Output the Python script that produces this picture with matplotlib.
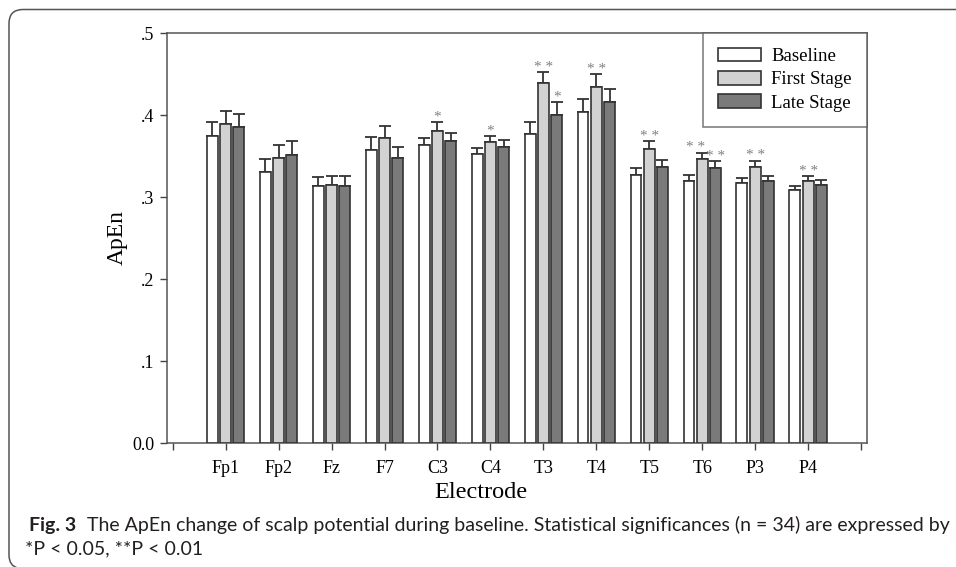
import matplotlib
matplotlib.use("Agg")
import matplotlib.pyplot as plt
from matplotlib.patches import Patch
from matplotlib.path import Path
from matplotlib.patches import PathPatch
import numpy as np

# ---------------- data ----------------
electrodes = ["Fp1", "Fp2", "Fz", "F7", "C3", "C4", "T3", "T4", "T5", "T6", "P3", "P4"]
baseline = [0.374, 0.331, 0.313, 0.357, 0.363, 0.352, 0.377, 0.404, 0.327, 0.319, 0.317, 0.308]
first_stage = [0.389, 0.348, 0.315, 0.372, 0.381, 0.367, 0.439, 0.434, 0.359, 0.346, 0.336, 0.320]
late_stage = [0.385, 0.351, 0.314, 0.347, 0.368, 0.361, 0.400, 0.416, 0.337, 0.335, 0.320, 0.315]
err_baseline = [0.0175, 0.015, 0.012, 0.016, 0.009, 0.008, 0.015, 0.016, 0.008, 0.008, 0.0056, 0.0057]
err_first = [0.016, 0.0155, 0.011, 0.015, 0.010, 0.008, 0.013, 0.016, 0.009, 0.008, 0.0085, 0.0057]
err_late = [0.016, 0.017, 0.012, 0.014, 0.010, 0.009, 0.016, 0.0155, 0.008, 0.0085, 0.006, 0.006]
sig_first = ["", "", "", "", "*", "*", "**", "**", "**", "**", "**", "**"]
sig_late = ["", "", "", "", "", "", "*", "", "", "**", "", ""]
series_labels = ["Baseline", "First Stage", "Late Stage"]
y_ticks = [0.0, 0.1, 0.2, 0.3, 0.4, 0.5]
y_ticklabels = ["0.0", ".1", ".2", ".3", ".4", ".5"]

colors = ["#ffffff", "#d2d2d2", "#7a7a7a"]
edge = "#333333"
serif = ["Liberation Serif", "DejaVu Serif"]

W, H = 956, 567
fig = plt.figure(figsize=(W / 100, H / 100), dpi=100)

# outer frame (bracket-like border)
bg = fig.add_axes([0, 0, 1, 1], zorder=-5)
bg.set_xlim(0, W)
bg.set_ylim(H, 0)
bg.axis("off")
r = 14
verts = [(W + 2, 9.5), (9 + r, 9.5), (9, 9.5), (9, 9.5 + r), (9, H - 12), (9, H - 1), (18, H + 1)]
codes = [Path.MOVETO, Path.LINETO, Path.CURVE3, Path.CURVE3, Path.LINETO, Path.CURVE3, Path.CURVE3]
bg.add_patch(PathPatch(Path(verts, codes), fill=False, edgecolor="#555555", lw=1.1))

# ---------------- chart ----------------
ax = fig.add_axes([167 / W, 1 - 443 / H, (866.7 - 167) / W, (443 - 33) / H])
x = np.arange(1, len(electrodes) + 1)
width = 0.205
offsets = [-0.25, 0.0, 0.25]
vals = [baseline, first_stage, late_stage]
errs = [err_baseline, err_first, err_late]
for k in range(3):
    xs = x + offsets[k]
    ax.bar(xs, vals[k], width=width, color=colors[k], edgecolor=edge, linewidth=1.2, zorder=3)
    ax.errorbar(xs, vals[k], yerr=[np.zeros(len(x)), errs[k]], fmt="none", ecolor=edge,
                elinewidth=1.3, capsize=4.3, capthick=1.3, zorder=2)

def stars(s):
    return " ".join(list(s))

for i in range(len(x)):
    if sig_first[i]:
        dx = -0.13 if sig_late[i] == "**" else 0.0
        ax.annotate(stars(sig_first[i]), xy=(x[i] + offsets[1] + dx, first_stage[i] + err_first[i]),
                    xytext=(0, 3.5), textcoords="offset points", ha="center", va="center",
                    fontsize=11, color="#808080", family=serif)
    if sig_late[i]:
        ax.annotate(stars(sig_late[i]), xy=(x[i] + offsets[2], late_stage[i] + err_late[i]),
                    xytext=(0, 3.5), textcoords="offset points", ha="center", va="center",
                    fontsize=11, color="#808080", family=serif)

ax.set_xlim(-0.108, 13.107)
ax.set_ylim(0, 0.5)
ax.set_xticks(np.arange(0, len(electrodes) + 2))
ax.set_xticklabels([""] + electrodes + [""], family=serif, fontsize=13)
ax.set_yticks(y_ticks)
ax.set_yticklabels(y_ticklabels, family=serif, fontsize=13)
ax.tick_params(axis="both", direction="out", length=5, width=1.0, color="#444444", pad=4)
ax.tick_params(axis="x", pad=7)
for s in ax.spines.values():
    s.set_color("#555555")
    s.set_linewidth(1.1)
ax.set_ylabel("ApEn", family=serif, fontsize=17, labelpad=3)
fig.text(481 / W, 1 - 493 / H, "Electrode", family=serif, fontsize=17.5, ha="center", va="center")

handles = [Patch(facecolor=colors[k], edgecolor=edge, linewidth=1.2) for k in range(3)]
leg = ax.legend(handles, series_labels, loc="upper right", bbox_to_anchor=(1, 1), borderaxespad=0,
                prop={"family": serif, "size": 13.5}, frameon=True, fancybox=False,
                edgecolor="#555555", handlelength=2.3, handleheight=0.72, handletextpad=0.55,
                borderpad=0.8, labelspacing=0.32)
leg.get_frame().set_linewidth(1.1)

# ---------------- caption ----------------
cap_font = ["Lato", "DejaVu Sans"]
t_bold = fig.text(29 / W, 1 - 525 / H, "Fig. 3", fontsize=13, fontweight="bold", family=cap_font,
                  va="center", ha="left", color="#231f20")
t_reg = fig.text(87 / W, 1 - 525 / H,
                 "The ApEn change of scalp potential during baseline. Statistical significances (n = 34) are expressed by",
                 fontsize=13, family=cap_font, va="center", ha="left", color="#231f20")
t_l2 = fig.text(25 / W, 1 - 549 / H, "*P < 0.05, **P < 0.01", fontsize=13, family=cap_font,
                va="center", ha="left", color="#231f20")
fig.canvas.draw()
rend = fig.canvas.get_renderer()
wreg = t_reg.get_window_extent(rend).width
scale = (945 - 87) / wreg
for t in (t_bold, t_reg, t_l2):
    t.set_fontsize(13 * scale)

fig.savefig("out.png", dpi=100)
